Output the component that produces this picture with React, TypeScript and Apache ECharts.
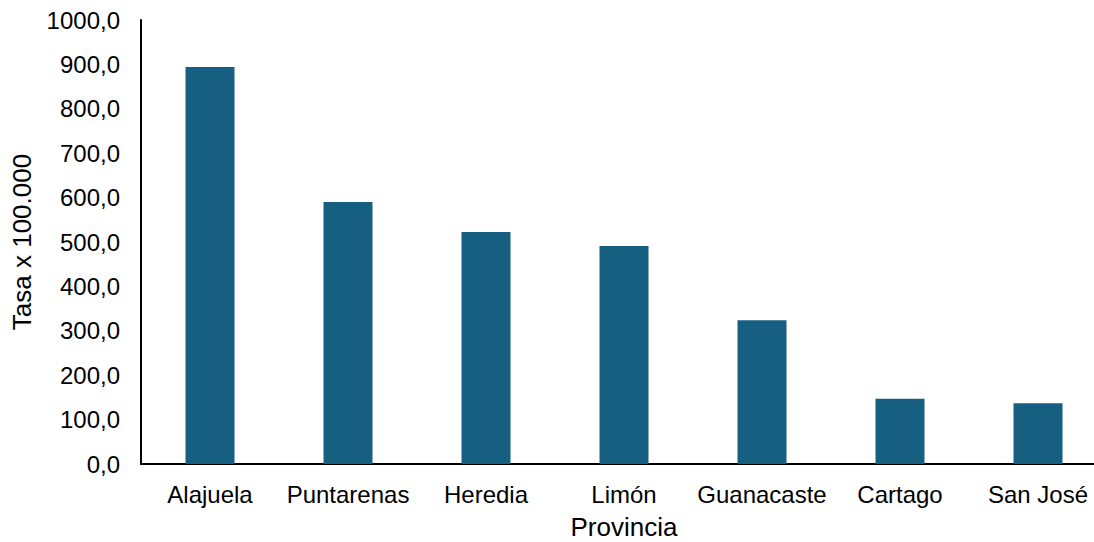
import React, { useEffect, useRef } from "react";
import * as echarts from "echarts";

const categories = ["Alajuela", "Puntarenas", "Heredia", "Limón", "Guanacaste", "Cartago", "San José"];
const values = [894.0, 590.0, 522.5, 491.0, 324.0, 147.0, 137.0];
const yTicks = { min: 0, max: 1000, interval: 100 };

export default function App() {
  const ref = useRef<HTMLDivElement>(null);
  useEffect(() => {
    const chart = echarts.init(ref.current!, null, { renderer: "svg", width: 1094, height: 542 });
    chart.setOption({
      animation: false,
      backgroundColor: "#ffffff",
      textStyle: { fontFamily: "Liberation Sans, Arial, sans-serif" },
      grid: { left: 141, top: 20, bottom: 78, right: -13, outerBoundsMode: "none", containLabel: false },
      xAxis: {
        type: "category",
        data: categories,
        name: "Provincia",
        nameLocation: "middle",
        nameGap: 52,
        nameTextStyle: { fontSize: 26, color: "#000", lineHeight: 22 },
        axisLine: { lineStyle: { color: "#000", width: 2 } },
        axisTick: { show: false },
        axisLabel: { fontSize: 24, color: "#000", margin: 18, interval: 0 },
      },
      yAxis: {
        type: "value",
        min: yTicks.min,
        max: yTicks.max,
        interval: yTicks.interval,
        name: "Tasa x 100.000",
        nameLocation: "middle",
        nameGap: 106,
        nameRotate: 90,
        nameTextStyle: { fontSize: 26, color: "#000" },
        axisLine: { show: true, lineStyle: { color: "#000", width: 2 } },
        axisTick: { show: false },
        splitLine: { show: false },
        axisLabel: {
          fontSize: 24,
          color: "#000",
          margin: 21,
          formatter: (v: number) => v.toFixed(1).replace(".", ","),
        },
      },
      series: [
        {
          type: "bar",
          data: values,
          barWidth: 49,
          itemStyle: { color: "#175F80" },
        },
      ],
    });
    return () => chart.dispose();
  }, []);
  return (
    <div
      ref={ref}
      style={{ position: "absolute", left: 0, top: 0, width: 1094, height: 542, overflow: "hidden" }}
    />
  );
}
